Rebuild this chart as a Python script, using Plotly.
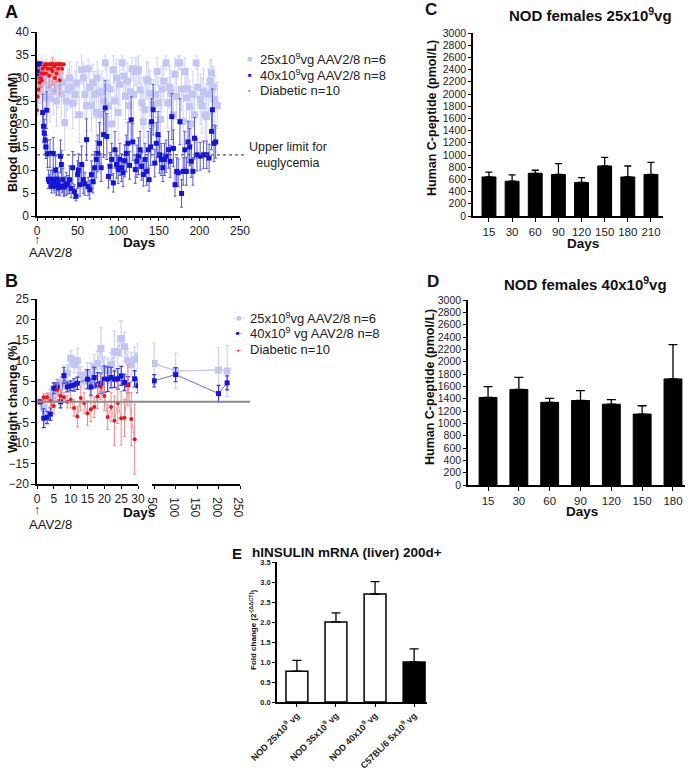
import plotly.graph_objects as go

W, H = 696, 771
def X(px): return px / W
def Y(py): return 1 - py / H

FONT = "Liberation Sans, Arial, sans-serif"
LIGHT = "#c3c6f2"
LIGHT_ERR = "#cfd2f5"
BLUE = "#1515d8"
RED = "#e8131b"
RED_ERR = "#f08a8a"

# ---------------- Panel A: blood glucose ----------------
days_hi = [0,1,2,3,4,5,6,7,8,9,
           10,11,12,13,14,15,16,17,18,19,
           20,21,22,23,24,25,26,27,28,29,
           30,31,32,33,34,36,38,40,42,44,
           46,48,50,51,53,55,57,59,61,63,
           65,67,69,71,73,75,77,79,82,84,
           86,88,90,92,94,96,98,100,102,104,
           106,108,110,112,114,116,118,121,123,125,
           127,129,131,133,135,137,138,140,141,143,
           145,147,149,151,153,155,157,159,162,164,
           166,168,170,172,174,176,178,180,182,184,
           186,188,190,192,194,197,201,205,209,212,
           215,216,218,220]
glu_hi = [33,31,33,31.5,33,30.5,31,22.5,19.5,18,
          16.5,15,23,13.5,8,7.5,13.6,7.9,6.5,8,
          13.6,7.5,6.5,10,6.5,8,7.5,6.2,6.4,13,
          11.2,6.5,7.9,6.3,6.5,7,6.8,7.9,6,10.5,
          5.3,4.3,9,10,6.8,11.2,7.9,7,16.6,6.4,
          5.7,9,7.5,10.5,12.3,13.6,15.8,10.5,17.7,23.5,
          17.3,8.6,10.8,12.3,7.2,14.4,11.2,10.1,12.3,10.5,
          9.4,12,13.6,15.8,11,20.9,16.1,10.1,11.9,13,
          14.4,10.8,9,12.3,9.7,14.4,7.9,15,20.5,23.1,
          11.5,15.8,17.7,13.3,12.3,10.5,12.3,13,14.4,11.9,
          21.6,14.7,6.8,9.7,9.4,20.5,4.9,9.7,14.4,9.7,
          16.1,15,11.9,9.7,16.9,13.3,13,13.3,13.3,12.6,
          18.4,23.1,15.8,16.1]
glu_hi_err = [0.5,1.5,0.5,2,0.5,2.5,2,4,3.5,3,
              3,2.5,4,3,2,1.5,3,2,1.5,2,
              3.5,2,1.5,3,2,2.5,2,1.5,2,3.5,
              3,1.5,2.5,2,2,2.5,2,3,2,3.5,
              1.5,1,3,3.5,2.5,4,3,2.5,4.5,2,
              2,3,2.5,3.5,4,4,4.5,3,5,6,
              5,2.5,3,3.5,2,4,3,3,3.5,3,
              3,3.5,4,4.5,3,5,4,3,3.5,4,
              4,3,2.5,3.5,3,4,2.5,4,5,5.5,
              3,4.5,5,4,3.5,3,3.5,3.5,4,3.5,
              5,4,2.5,3,3,5,3,3,4,3,
              4.5,4,3.5,3,4.5,3.5,3,3,3,3,
              4,4.5,4,3.5]

days_lo = [0,2,4,6,8,10,12,14,16,18,
           20,22,24,26,28,30,32,34,36,38,
           40,42,44,47,49,52,55,57,59,61,
           63,65,67,69,71,73,74,76,78,80,
           82,84,86,88,90,92,94,96,98,100,
           102,105,107,109,111,113,115,117,119,121,
           123,125,127,129,131,133,135,137,139,141,
           143,146,148,150,152,154,156,159,161,163,
           165,168,170,172,174,176,178,180,182,184,
           186,188,190,192,194,196,198,201,203,205,
           207,209,211,213,215,217,219,222]
glu_lo = [33,30,28.5,32,29,26,30.5,28,25.5,29,
          27,31,25,28,30,26.5,29,20.3,25,27.5,
          30,28,24.5,26.4,28.9,22,31.8,30,26.4,24,
          32,28,24,29,26.4,22.5,30,26.7,22,27,
          25,33.3,28,24,27.6,20,31.8,25,30,22.5,
          28.6,33.3,30.4,26,29.3,24,27,32,26.4,31.4,
          31.4,31.8,27.4,24.6,20.5,23.1,29.6,29.3,26.7,20,
          24.2,26.4,31.4,24.6,21,27.6,29.3,33.3,24.6,28,
          26.7,22,30.8,26,33.3,33.3,27.6,20.5,31.4,25.7,
          27.6,23.8,20,26.4,22,33.3,28,25.4,24,27,
          22,21.6,26.5,29.3,31.1,28,25.4,24]
glu_lo_err = [1,3,4,2.5,4,5,3.5,4,5,4,
              5,3,5.5,4.5,3.5,5,4,6,5,4.5,
              3.5,4.5,5.5,5,4.5,6,3,3.5,5,5.5,
              2,4.5,5.5,4,5,6,3.5,5,6,4.5,
              5,1.5,4.5,5.5,4.5,6,3,5,4,6,
              4.5,1.5,3.5,5,4,5.5,5,2.5,5,3,
              3,3,4.5,5.5,6.5,6,4,4,5,7,
              5.5,5,3,5.5,6.5,5,4,1.5,5.5,4.5,
              5,6,3.5,5,1.5,1.5,4.5,7,3,5,
              4.5,5.5,7,5,6,1.5,4.5,5.5,6,5,
              6,7,5.5,4.5,3,4.5,5,5]

days_db = [0,1,2,3,4,5,6,7,8,9,
           10,11,12,13,14,15,16,17,18,19,
           20,21,22,23,24,25,26,27,28,29,
           30,31,33]
glu_db = [23,26,27.5,29,30,31,29.5,32,31,32.5,
          33,31,33,32,33,30.5,33,32,33,31.5,
          33,32.5,30,33,31,33,32,33,29.5,33,
          33,32,33]
glu_db_err = [1,1.5,2,2,2,1.5,2.5,1,1.5,1,
              0,2,0,1,0,2.5,0,1.5,0,3,
              0,1,3,0,2,0,1.5,0,3,0,
              0,1,0]
euglycemia_limit = 13.3

# ---------------- Panel B: weight change ----------------
wd_lo_early = [1,2,3,4,5,6,7,8,9,10,11,12,13,14,15,16,17,18,19,20,21,22,23,24,25,26,27,28,29,30]
wt_lo_early = [0,-1.5,0.5,1.5,3,4,4.5,5.5,7,10.6,9,10,6.5,5,7,6.5,8.5,9.3,13,8,7.5,9,12.2,12,15.4,13.4,10,9,10.3,11.1]
wt_lo_early_err = [0,1.5,1.5,1.5,1.5,1.5,1.5,2,2,1.8,2,3,2,2,2.5,3,3,3,5,3,3,3,5,4,4.3,3.5,3,3,3,3]
wd_lo_late = [50,100,200,220]
wt_lo_late = [9.3,7.5,7.7,7.5]
wt_lo_late_err = [5,4.3,5.5,6.2]

wd_hi_early = [1,2,3,4,5,6,7,8,9,10,11,12,15,16,17,18,19,20,21,22,23,24,25,26,27,29,30]
wt_hi_early = [0,-4,-3.8,-3,3.3,3.6,0,6.4,3.6,3.9,4.1,4.5,5.5,3.6,5.9,4.1,4.5,5.5,5.5,5.9,5.5,5.6,6.3,4.7,4.1,5.6,3.9]
wt_hi_early_err = [0,2.3,1.5,1.5,1.3,1,1.5,2,1.2,1.2,1.5,1.5,2.3,2,2.5,3,2.5,3.2,3,2.5,2,2.5,2.3,2,2,2,1.7]
wd_hi_late = [50,100,200,220]
wt_hi_late = [5.1,6.6,2.0,4.6]
wt_hi_late_err = [1.5,1.7,2,1.7]

wd_db = [1,2,3,4,5,6,7,8,9,10,11,12,13,14,15,16,17,18,19,20,21,22,23,24,25,26,27,28,29]
wt_db = [0,1.1,1.1,0.2,-1,2.9,1.4,1.1,0,0.5,-1.5,-3.6,0.9,-0.3,-2.8,-1.8,-1.3,1.3,3.6,1.4,-3.7,-1.3,-4.6,-0.3,-4,-3.9,4,-4.2,-9.1]
wt_db_err = [0,0.8,1,1.5,2,2.5,1.5,1.2,1.5,2,2,2.5,3,2.5,3,3,2.5,3,3,3.5,3,3.5,6,5,6.5,4.5,5,6.5,8.5]

# ---------------- Panel C / D: C-peptide ----------------
c_days = ["15","30","60","90","120","150","180","210"]
c_pep = [640,570,700,680,550,820,640,680]
c_err = [80,105,50,180,80,140,180,200]

d_days = ["15","30","60","90","120","150","180"]
d_pep = [1420,1550,1340,1370,1310,1150,1720]
d_err = [175,195,65,160,75,135,555]

# ---------------- Panel E: hINSULIN mRNA ----------------
e_groups = ["NOD 25x10<sup>9</sup> vg", "NOD 35x10<sup>9</sup> vg",
            "NOD 40x10<sup>9</sup> vg", "C57BL/6 5x10<sup>9</sup> vg"]
e_fold = [0.77, 2.0, 2.7, 1.0]
e_err = [0.27, 0.23, 0.31, 0.33]
e_fill = ["white", "white", "white", "black"]

fig = go.Figure()

# Panel A traces
fig.add_trace(go.Scatter(x=days_lo, y=glu_lo, mode="markers", xaxis="x", yaxis="y",
    marker=dict(symbol="square", size=7, color=LIGHT),
    error_y=dict(type="data", array=glu_lo_err, color=LIGHT_ERR, thickness=1, width=1.5),
    showlegend=False))
fig.add_trace(go.Scatter(x=days_hi, y=glu_hi, mode="markers", xaxis="x", yaxis="y",
    marker=dict(symbol="square", size=5, color=BLUE),
    error_y=dict(type="data", array=glu_hi_err, color="#5a5ae0", thickness=1, width=1.5),
    showlegend=False))
fig.add_trace(go.Scatter(x=days_db, y=glu_db, mode="lines+markers", xaxis="x", yaxis="y",
    line=dict(color="#f4a0a0", width=0.8),
    marker=dict(symbol="circle", size=4, color=RED),
    error_y=dict(type="data", array=glu_db_err, color=RED_ERR, thickness=1, width=1.5),
    showlegend=False))

# Panel B traces
for xs, ys, es, xa in [(wd_lo_early, wt_lo_early, wt_lo_early_err, "x2"),
                       (wd_lo_late, wt_lo_late, wt_lo_late_err, "x3")]:
    fig.add_trace(go.Scatter(x=xs, y=ys, mode="lines+markers", xaxis=xa, yaxis="y2",
        line=dict(color="#c8cbf3", width=1.5),
        marker=dict(symbol="square", size=7, color=LIGHT),
        error_y=dict(type="data", array=es, color=LIGHT_ERR, thickness=1.2, width=2),
        showlegend=False))
for xs, ys, es, xa in [(wd_hi_early, wt_hi_early, wt_hi_early_err, "x2"),
                       (wd_hi_late, wt_hi_late, wt_hi_late_err, "x3")]:
    fig.add_trace(go.Scatter(x=xs, y=ys, mode="lines+markers", xaxis=xa, yaxis="y2",
        line=dict(color="#6a6ae6", width=1),
        marker=dict(symbol="square", size=5, color=BLUE),
        error_y=dict(type="data", array=es, color="#3a3ad8", thickness=1.2, width=2),
        showlegend=False))
fig.add_trace(go.Scatter(x=wd_db, y=wt_db, mode="lines+markers", xaxis="x2", yaxis="y2",
    line=dict(color="#f29a9a", width=1),
    marker=dict(symbol="circle", size=4, color=RED),
    error_y=dict(type="data", array=wt_db_err, color=RED_ERR, thickness=1, width=1.5),
    showlegend=False))

# Panel C
fig.add_trace(go.Bar(x=list(range(len(c_days))), y=c_pep, xaxis="x4", yaxis="y3", width=0.6,
    marker=dict(color="black", line=dict(color="black", width=1)),
    error_y=dict(type="data", array=c_err, arrayminus=[0]*len(c_err), symmetric=False,
                 color="black", thickness=1.3, width=3.5),
    showlegend=False))
# Panel D
fig.add_trace(go.Bar(x=list(range(len(d_days))), y=d_pep, xaxis="x5", yaxis="y4", width=0.58,
    marker=dict(color="black", line=dict(color="black", width=1)),
    error_y=dict(type="data", array=d_err, arrayminus=[0]*len(d_err), symmetric=False,
                 color="black", thickness=1.3, width=4.5),
    showlegend=False))
# Panel E
fig.add_trace(go.Bar(x=list(range(len(e_groups))), y=e_fold, xaxis="x6", yaxis="y5", width=0.56,
    marker=dict(color=e_fill, line=dict(color="black", width=1.5)),
    error_y=dict(type="data", array=e_err, arrayminus=[0]*len(e_err), symmetric=False,
                 color="black", thickness=1.3, width=4.5),
    showlegend=False))

axis_common = dict(showline=True, linecolor="black", linewidth=1.5, ticks="outside",
                   ticklen=4, tickwidth=1.2, tickcolor="black", showgrid=False, zeroline=False,
                   automargin=False,
                   tickfont=dict(family=FONT, size=12, color="#222"))

fig.update_layout(
    template="none",
    width=W, height=H, margin=dict(l=0, r=0, t=0, b=0, autoexpand=False),
    paper_bgcolor="white", plot_bgcolor="white", font=dict(family=FONT),
    xaxis=dict(axis_common, domain=[X(37), X(240)], anchor="y", range=[0, 250],
               tickvals=[0, 50, 100, 150, 200, 250], ticklen=3,
               minor=dict(ticks="outside", dtick=10, ticklen=2, tickcolor="black")),
    yaxis=dict(axis_common, domain=[Y(216), Y(32)], anchor="x", range=[0, 40], dtick=5),
    xaxis2=dict(axis_common, domain=[X(37), X(138)], anchor="y2", range=[0, 30], dtick=5,
                ticklen=3),
    xaxis3=dict(axis_common, domain=[X(152), X(240)], anchor="y2", range=[45, 250],
                tickvals=[50, 100, 150, 200, 250], ticklen=3),
    yaxis2=dict(axis_common, domain=[Y(484), Y(299)], anchor="x2", range=[-20, 25], dtick=5),
    xaxis4=dict(axis_common, domain=[X(473), X(663)], anchor="y3", range=[-0.69, 7.52],
                tickvals=list(range(len(c_days))), ticktext=c_days,
                tickfont=dict(family=FONT, size=11.5, color="#222")),
    yaxis3=dict(axis_common, domain=[Y(216), Y(33)], anchor="x4", range=[0, 3000], dtick=200,
                tickfont=dict(family=FONT, size=10.5, color="#222"), ticklen=3),
    xaxis5=dict(axis_common, domain=[X(468), X(685)], anchor="y4", range=[-0.65, 6.39],
                tickvals=list(range(len(d_days))), ticktext=d_days,
                tickfont=dict(family=FONT, size=11.5, color="#222")),
    yaxis4=dict(axis_common, domain=[Y(485), Y(300)], anchor="x5", range=[0, 3000], dtick=200,
                tickfont=dict(family=FONT, size=10.5, color="#222"), ticklen=3),
    xaxis6=dict(axis_common, domain=[X(277), X(427)], anchor="y5", range=[-0.51, 3.33],
                tickvals=list(range(len(e_groups))), ticktext=e_groups, tickangle=-45,
                tickfont=dict(family=FONT, size=9, color="#222", weight="bold"), ticklen=3),
    yaxis5=dict(axis_common, domain=[Y(702), Y(562)], anchor="x6", range=[0, 3.5], dtick=0.5,
                tickformat=".1f", ticklen=3,
                tickfont=dict(family=FONT, size=7.5, color="#222", weight="bold")),
)

shapes = [
    dict(type="line", xref="paper", yref="y", x0=X(37), x1=X(245),
         y0=euglycemia_limit, y1=euglycemia_limit, line=dict(color="#555", width=1.2, dash="dot")),
    dict(type="line", xref="paper", yref="y2", x0=X(37), x1=X(250),
         y0=0, y1=0, line=dict(color="#8a8a8a", width=2)),
]
fig.update_layout(shapes=shapes)

ann = []
def txt(t, x, y, size, bold=False, xanchor="center", yanchor="middle", angle=0, color="#111"):
    ann.append(dict(text=("<b>%s</b>" % t) if bold else t, x=X(x), y=Y(y), xref="paper",
                    yref="paper", showarrow=False, xanchor=xanchor, yanchor=yanchor,
                    textangle=angle, font=dict(family=FONT, size=size, color=color)))

# panel letters
txt("A", 3, 12, 18, True, xanchor="left")
txt("B", 3, 281, 18, True, xanchor="left")
txt("C", 423, 10, 17, True, xanchor="left")
txt("D", 425, 281, 17, True, xanchor="left")
txt("E", 230, 553, 15, True, xanchor="left")
# titles
txt("NOD females 25x10<sup>9</sup>vg", 590, 14, 15, True)
txt("NOD females 40x10<sup>9</sup>vg", 585, 283, 15, True)
txt("hINSULIN mRNA (liver) 200d+", 250, 552, 13.5, True, xanchor="left")
# axis titles
txt("Blood glucose (mM)", 13, 133, 12.5, True, angle=-90)
txt("Weight change (%)", 13, 397, 12.5, True, angle=-90)
txt("Human C-peptide (pmol/L)", 432, 118, 12.5, True, angle=-90)
txt("Human C-peptide (pmol/L)", 430, 387, 12.5, True, angle=-90)
txt("Fold change (2<sup>-(ΔΔCT)</sup>)", 253, 630, 8, True, angle=-90)
txt("Days", 139, 242, 13.5, True)
txt("Days", 139, 512, 13.5, True)
txt("Days", 583, 243, 13.5, True)
txt("Days", 582, 511, 13.5, True)
# injection markers
txt("↑", 37, 240, 12)
txt("AAV2/8", 51, 253, 13)
txt("↑", 37, 510, 12)
txt("AAV2/8", 51, 524, 13)
# euglycemia label
txt("Upper limit for<br>euglycemia", 247, 155, 12.5, xanchor="left", color="#222")

# legend A
txt("■", 250, 59, 9, color=LIGHT)
txt("■", 250, 75, 6, color=BLUE)
txt("●", 250, 90, 4, color=RED)
txt("25x10<sup>9</sup>vg AAV2/8 n=6", 258, 59, 13, xanchor="left", color="#222")
txt("40x10<sup>9</sup>vg AAV2/8 n=8", 258, 75, 13, xanchor="left", color="#222")
txt("Diabetic n=10", 258, 90, 13, xanchor="left", color="#222")
# legend B
txt("-■-", 238, 318, 9, color=LIGHT)
txt("-■-", 238, 333, 6, color=BLUE)
txt("-●-", 238, 350, 5, color=RED)
txt("25x10<sup>9</sup>vg AAV2/8 n=6", 248, 318, 13, xanchor="left", color="#222")
txt("40x10<sup>9</sup> vg AAV2/8 n=8", 248, 333, 13, xanchor="left", color="#222")
txt("Diabetic n=10", 248, 350, 13, xanchor="left", color="#222")

fig.update_layout(annotations=ann)
fig.write_html("out.html", config={"displayModeBar": False},
               post_script="document.body.style.margin='0';document.body.style.overflow='hidden';")
